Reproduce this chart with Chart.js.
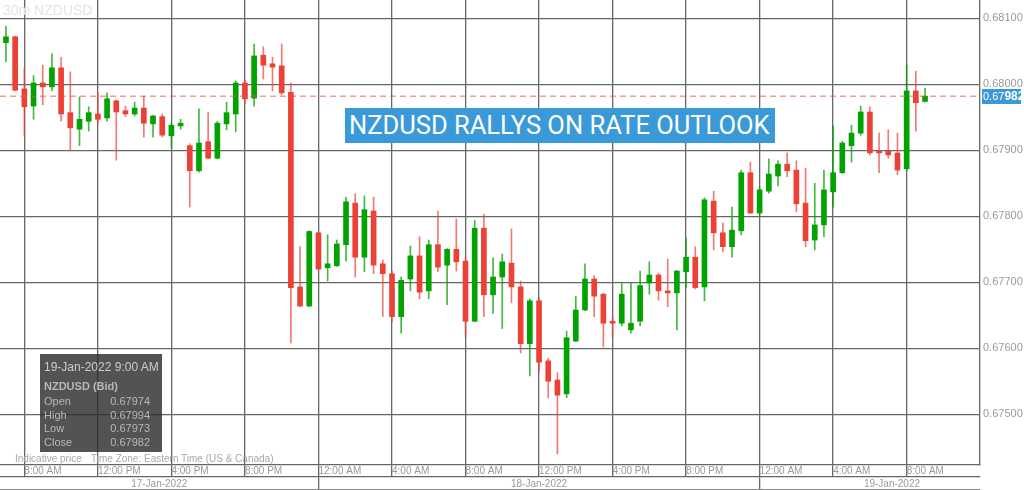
<!DOCTYPE html>
<html>
<head>
<meta charset="utf-8">
<script src="https://cdn.jsdelivr.net/npm/chart.js@4.4.1/dist/chart.umd.min.js"></script>
<style>
  html, body { margin: 0; padding: 0; background: #fff; }
  #wrap { position: relative; width: 1024px; height: 490px; overflow: hidden; font-family: "Liberation Sans", Arial, sans-serif; }
  #chart { position: absolute; left: 0; top: 0; }
  #symbol { position: absolute; left: 3px; top: 2px; font-size: 14px; color: #e4e4e4; }
  #headline { position: absolute; left: 345px; top: 108px; width: 430px; height: 35px; box-sizing: border-box;
    padding-left: 4px; background: #3a9ad9; color: #fff; font: 25.5px Roboto, sans-serif; line-height: 35px; white-space: nowrap; }
  #info { position: absolute; left: 40px; top: 354px; width: 122px; height: 98px; background: rgba(45,45,45,0.82); color: #b8b8b8; font-size: 11px; white-space: nowrap; }
  #info .when { position: absolute; left: 4px; top: 6px; font-size: 12px; color: #cccccc; }
  #info .sym { position: absolute; left: 4px; top: 26px; font-weight: bold; }
  #info .row { position: absolute; left: 4px; width: 106px; }
  #info .row span { float: right; }
  #footnote { position: absolute; left: 15px; top: 453px; font-size: 10px; color: #a8a8a8; white-space: nowrap; }
  #footnote .tz { position: absolute; left: 76px; }
  #baseline { position: absolute; left: 0; top: 489px; width: 980px; height: 1px; background: #888; }
</style>
</head>
<body>
<div id="wrap">
  <canvas id="chart" width="1024" height="490"></canvas>
  <div id="symbol">30m NZDUSD</div>
  <div id="headline">NZDUSD RALLYS ON RATE OUTLOOK</div>
  <div id="info"></div>
  <div id="footnote">Indicative price<span class="tz">Time Zone: Eastern Time (US &amp; Canada)</span></div>
  <div id="baseline"></div>
</div>
<script>
// 30 minute candles, first one is 17-Jan-2022 6:30 AM (slot = half hours since 17-Jan 12:00 AM)
var firstSlot = 13;

var opens = [
  0.68113, 0.68063, 0.68072, 0.67993, 0.67967, 0.68002, 0.67996, 0.68025, 0.67957, 0.67932,
  0.67944, 0.67955, 0.67949, 0.67975, 0.67960, 0.67955, 0.67964, 0.67940, 0.67951, 0.67922,
  0.67937, 0.67907, 0.67869, 0.67913, 0.67888, 0.67940, 0.67955, 0.68002, 0.67979, 0.68044,
  0.68031, 0.68028, 0.67988, 0.67693, 0.67664, 0.67775, 0.67722, 0.67725, 0.67757, 0.67820,
  0.67738, 0.67808, 0.67728, 0.67713, 0.67648, 0.67705, 0.67740, 0.67687, 0.67757, 0.67726,
  0.67750, 0.67732, 0.67641, 0.67782, 0.67681, 0.67708, 0.67729, 0.67693, 0.67607, 0.67672,
  0.67581, 0.67552, 0.67531, 0.67611, 0.67658, 0.67705, 0.67682, 0.67641, 0.67638, 0.67628,
  0.67641, 0.67699, 0.67711, 0.67687, 0.67684, 0.67716, 0.67738, 0.67693, 0.67823, 0.67775,
  0.67754, 0.67778, 0.67866, 0.67805, 0.67838, 0.67861, 0.67879, 0.67870, 0.67820, 0.67764,
  0.67787, 0.67837, 0.67866, 0.67907, 0.67926, 0.67958, 0.67899, 0.67899, 0.67896, 0.67872,
  0.67990, 0.67974
];
var highs = [
  0.68116, 0.68088, 0.68073, 0.68025, 0.68013, 0.68029, 0.68046, 0.68041, 0.68019, 0.67981,
  0.67966, 0.67988, 0.67987, 0.67976, 0.67967, 0.67973, 0.67982, 0.67953, 0.67955, 0.67941,
  0.67947, 0.67910, 0.67963, 0.67957, 0.67944, 0.67973, 0.68005, 0.68006, 0.68061, 0.68057,
  0.68041, 0.68061, 0.68002, 0.67754, 0.67778, 0.67776, 0.67772, 0.67764, 0.67829, 0.67834,
  0.67831, 0.67829, 0.67734, 0.67717, 0.67708, 0.67755, 0.67769, 0.67764, 0.67808, 0.67751,
  0.67796, 0.67738, 0.67794, 0.67803, 0.67737, 0.67743, 0.67781, 0.67702, 0.67675, 0.67676,
  0.67585, 0.67563, 0.67626, 0.67679, 0.67728, 0.67710, 0.67683, 0.67649, 0.67698, 0.67699,
  0.67717, 0.67731, 0.67714, 0.67735, 0.67718, 0.67767, 0.67754, 0.67828, 0.67838, 0.67790,
  0.67814, 0.67870, 0.67882, 0.67844, 0.67887, 0.67884, 0.67896, 0.67884, 0.67873, 0.67850,
  0.67870, 0.67937, 0.67914, 0.67938, 0.67967, 0.67966, 0.67926, 0.67931, 0.67926, 0.68029,
  0.68020, 0.67994
];
var lows = [
  0.68060, 0.68034, 0.67990, 0.67922, 0.67947, 0.67969, 0.67990, 0.67944, 0.67899, 0.67907,
  0.67929, 0.67940, 0.67944, 0.67885, 0.67951, 0.67952, 0.67920, 0.67920, 0.67920, 0.67904,
  0.67932, 0.67814, 0.67867, 0.67887, 0.67887, 0.67931, 0.67928, 0.67970, 0.67967, 0.68008,
  0.67990, 0.67984, 0.67608, 0.67663, 0.67663, 0.67719, 0.67702, 0.67724, 0.67732, 0.67708,
  0.67716, 0.67713, 0.67648, 0.67640, 0.67623, 0.67687, 0.67675, 0.67675, 0.67716, 0.67666,
  0.67717, 0.67617, 0.67640, 0.67648, 0.67653, 0.67630, 0.67669, 0.67593, 0.67558, 0.67564,
  0.67525, 0.67440, 0.67525, 0.67610, 0.67657, 0.67648, 0.67602, 0.67617, 0.67634, 0.67623,
  0.67634, 0.67682, 0.67673, 0.67663, 0.67628, 0.67692, 0.67690, 0.67672, 0.67749, 0.67746,
  0.67738, 0.67772, 0.67804, 0.67802, 0.67835, 0.67846, 0.67860, 0.67807, 0.67754, 0.67749,
  0.67769, 0.67814, 0.67865, 0.67882, 0.67923, 0.67893, 0.67866, 0.67888, 0.67863, 0.67870,
  0.67929, 0.67973
];
var closes = [
  0.68063, 0.68072, 0.67991, 0.67966, 0.68002, 0.67996, 0.68025, 0.67955, 0.67934, 0.67947,
  0.67957, 0.67947, 0.67978, 0.67958, 0.67955, 0.67964, 0.67941, 0.67952, 0.67923, 0.67938,
  0.67941, 0.67869, 0.67911, 0.67888, 0.67941, 0.67957, 0.68002, 0.67978, 0.68043, 0.68029,
  0.68026, 0.67987, 0.67692, 0.67664, 0.67777, 0.67720, 0.67728, 0.67758, 0.67822, 0.67738,
  0.67810, 0.67726, 0.67713, 0.67648, 0.67703, 0.67740, 0.67685, 0.67757, 0.67723, 0.67750,
  0.67731, 0.67641, 0.67782, 0.67681, 0.67708, 0.67731, 0.67693, 0.67607, 0.67672, 0.67579,
  0.67550, 0.67529, 0.67616, 0.67658, 0.67705, 0.67679, 0.67638, 0.67638, 0.67682, 0.67638,
  0.67695, 0.67711, 0.67687, 0.67684, 0.67717, 0.67738, 0.67692, 0.67825, 0.67775, 0.67754,
  0.67779, 0.67866, 0.67805, 0.67840, 0.67864, 0.67879, 0.67869, 0.67819, 0.67763, 0.67787,
  0.67840, 0.67866, 0.67911, 0.67926, 0.67958, 0.67896, 0.67896, 0.67893, 0.67870, 0.67990,
  0.67972, 0.67982
];

var timeLabels = ["12:00 AM", "4:00 AM", "8:00 AM", "12:00 PM", "4:00 PM", "8:00 PM"];
var dayLabels = ["17-Jan-2022", "18-Jan-2022", "19-Jan-2022"];
var symbolName = "NZDUSD (Bid)";

// visible window
var xMin = 13.35, xMax = 119.98, rowEnd = 124.8;
var yMin = 0.674232, yMax = 0.681277;

var green = "#00a300", red = "#ec4136";
var greenWick = "rgba(0,163,0,0.75)", redWick = "rgba(236,65,54,0.7)";
var gridColor = "#666666";
var tickFont = { family: "'Liberation Sans', Arial, sans-serif", size: 11 };
var timeFont = { family: "'Liberation Sans', Arial, sans-serif", size: 10 };

var last = closes.length - 1;
var lastClose = closes[last];

function isUp(i) { return closes[i] >= opens[i]; }

function slotTime(slot) {
  var m = (slot * 30) % 1440;
  var h = Math.floor(m / 60), mm = m % 60;
  var ap = h < 12 ? "AM" : "PM";
  var h12 = h % 12 === 0 ? 12 : h % 12;
  return h12 + ":" + (mm < 10 ? "0" : "") + mm + " " + ap;
}

function noPadding(s) {
  s.paddingTop = 0; s.paddingBottom = 0; s.paddingLeft = 0; s.paddingRight = 0;
}

var wickData = [], bodyData = [];
for (var i = 0; i < opens.length; i++) {
  wickData.push({ x: firstSlot + i, y: [lows[i], highs[i]] });
  bodyData.push({ x: firstSlot + i, y: [opens[i], closes[i]] });
}

// day separators and centred date labels for the bottom row
var dateTicks = [];
dayLabels.forEach(function(lbl, d) {
  var start = d * 48, end = start + 48;
  var a = Math.max(start, xMin), b = Math.min(end, rowEnd);
  if (d > 0) dateTicks.push({ value: start, label: "" });
  dateTicks.push({ value: (a + b) / 2, label: lbl });
});

// info box for the last candle
var info = document.getElementById("info");
var lastSlot = firstSlot + last;
var html = '<div class="when">' + dayLabels[Math.floor(lastSlot / 48)] + " " + slotTime(lastSlot) + '</div>' +
  '<div class="sym">' + symbolName + '</div>';
[["Open", opens[last]], ["High", highs[last]], ["Low", lows[last]], ["Close", closes[last]]].forEach(function(r, j) {
  html += '<div class="row" style="top:' + (41 + j * 13.5) + 'px">' + r[0] + '<span>' + r[1].toFixed(5) + '</span></div>';
});
info.innerHTML = html;

var priceTag = {
  id: "priceTag",
  afterDraw: function(chart) {
    var y = chart.scales.y.getPixelForValue(lastClose);
    var x = chart.scales.y.left + 2;
    var ctx = chart.ctx;
    ctx.save();
    ctx.fillStyle = "#3a9ad9";
    ctx.fillRect(x, Math.round(y) - 7, chart.width - x - 3, 15);
    ctx.fillStyle = "#fff";
    ctx.textBaseline = "middle";
    var s = lastClose.toFixed(5);
    ctx.font = "11px 'Liberation Sans', Arial, sans-serif";
    ctx.fillText(s.slice(0, 4), x + 1, y + 0.5);
    var w = ctx.measureText(s.slice(0, 4)).width;
    ctx.font = "bold 12px 'Liberation Sans', Arial, sans-serif";
    ctx.fillText(s.slice(4), x + 1 + w, y + 0.5);
    ctx.restore();
  }
};

new Chart(document.getElementById("chart"), {
  type: "bar",
  data: {
    datasets: [
      {
        label: "wick",
        data: wickData,
        grouped: false,
        barThickness: 1,
        minBarLength: 1,
        backgroundColor: function(c) { return isUp(c.dataIndex) ? greenWick : redWick; },
        order: 2
      },
      {
        label: "body",
        data: bodyData,
        grouped: false,
        barThickness: 5,
        minBarLength: 1,
        backgroundColor: function(c) { return isUp(c.dataIndex) ? green : red; },
        order: 1
      },
      {
        type: "line",
        label: "last",
        data: [{ x: xMin, y: lastClose }, { x: xMax, y: lastClose }],
        borderColor: "rgba(236,80,70,0.85)",
        borderWidth: 1,
        borderDash: [6, 4],
        pointRadius: 0,
        order: 0
      }
    ]
  },
  options: {
    responsive: false,
    animation: false,
    layout: { padding: 0 },
    plugins: { legend: { display: false }, tooltip: { enabled: false } },
    scales: {
      x: {
        type: "linear",
        position: "bottom",
        weight: 0,
        min: xMin,
        max: xMax,
        offset: false,
        grid: { offset: false, color: gridColor, lineWidth: 1.3, drawTicks: true, tickLength: 12 },
        border: { color: gridColor, width: 1.3 },
        ticks: {
          stepSize: 8,
          includeBounds: false,
          autoSkip: false,
          maxRotation: 0,
          align: "start",
          padding: -12,
          color: "#9a9a9a",
          font: timeFont,
          callback: function(v) { return timeLabels[(v / 8) % 6]; }
        },
        afterFit: function(s) { s.height = 12; noPadding(s); }
      },
      x2: {
        type: "linear",
        position: "bottom",
        weight: 1,
        min: xMin,
        max: xMax,
        offset: false,
        grid: {
          offset: false,
          drawOnChartArea: false,
          drawTicks: true,
          tickLength: 13,
          lineWidth: 1.3,
          color: function(c) { return c.tick && c.tick.value % 48 === 0 ? gridColor : "rgba(0,0,0,0)"; }
        },
        border: { color: gridColor, width: 1.3 },
        afterBuildTicks: function(s) {
          s.ticks = dateTicks.map(function(t) { return { value: t.value }; });
        },
        ticks: {
          autoSkip: false,
          maxRotation: 0,
          padding: -12,
          color: "#9a9a9a",
          font: timeFont,
          callback: function(v, idx) { return dateTicks[idx].label; }
        },
        afterFit: function(s) { s.height = 13; noPadding(s); }
      },
      y: {
        type: "linear",
        position: "right",
        min: yMin,
        max: yMax,
        grid: { color: gridColor, lineWidth: 1.3, drawTicks: false },
        border: { color: gridColor, width: 1.3 },
        ticks: {
          stepSize: 0.001,
          includeBounds: false,
          padding: 3,
          color: "#9a9a9a",
          font: tickFont,
          callback: function(v) { return v.toFixed(5); }
        },
        afterFit: function(s) { s.width = 44; noPadding(s); }
      }
    }
  },
  plugins: [priceTag]
});
</script>
</body>
</html>
